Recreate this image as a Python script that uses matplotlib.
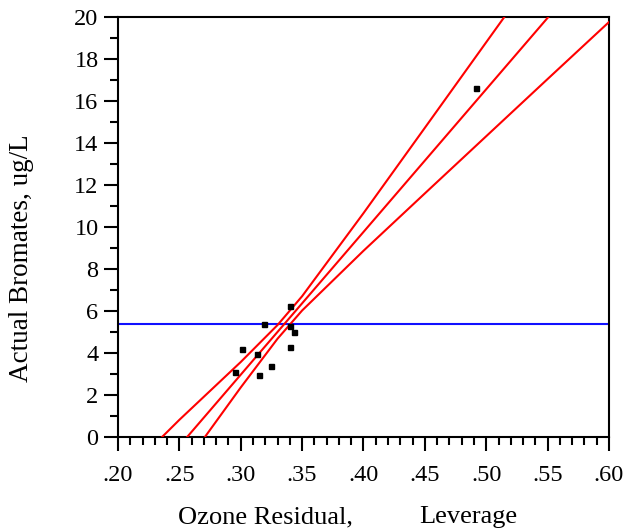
import matplotlib
matplotlib.use("Agg")
import matplotlib.pyplot as plt
from matplotlib.ticker import MultipleLocator, FuncFormatter

plt.rcParams['font.family'] = ['Liberation Serif', 'DejaVu Serif']

# observed points (ozone residual leverage, actual bromates)
x_pts = [0.295, 0.301, 0.313, 0.315, 0.319, 0.325, 0.340, 0.340, 0.340, 0.343, 0.492]
y_pts = [3.1, 4.2, 3.95, 2.95, 5.4, 3.4, 6.25, 4.3, 5.3, 5.0, 16.6]

# fitted line
fit_x = [0.256, 0.5506]
fit_y = [0.0, 20.0]

# confidence curves
upper_x = [0.2355, 0.25, 0.30, 0.33, 0.35, 0.40, 0.45, 0.50, 0.515]
upper_y = [0.0, 0.84, 3.59, 5.35, 6.72, 10.67, 14.73, 18.80, 20.02]
lower_x = [0.2705, 0.30, 0.33, 0.35, 0.40, 0.45, 0.50, 0.55, 0.60]
lower_y = [0.0, 2.38, 4.70, 6.04, 8.88, 11.61, 14.33, 17.05, 19.76]

mean_y = 5.4

fig = plt.figure(figsize=(6.29, 5.29), dpi=100)
ax = fig.add_axes([0.1876, 0.173, 0.7806, 0.7949])

ax.axhline(mean_y, color='#1010ff', lw=1.5, zorder=2)
ax.plot(fit_x, fit_y, color='red', lw=1.5, zorder=3)
ax.plot(upper_x, upper_y, color='red', lw=1.5, zorder=3)
ax.plot(lower_x, lower_y, color='red', lw=1.5, zorder=3)
ax.plot(x_pts, y_pts, 's', color='black', ms=3.6, zorder=4)

ax.set_xlim(0.2, 0.6)
ax.set_ylim(0, 20)

ax.xaxis.set_major_locator(MultipleLocator(0.05))
ax.xaxis.set_minor_locator(MultipleLocator(0.01))
ax.yaxis.set_major_locator(MultipleLocator(2))
ax.yaxis.set_minor_locator(MultipleLocator(1))
ax.xaxis.set_major_formatter(FuncFormatter(lambda v, p: ('%.2f' % v)[1:]))

ax.tick_params(which='major', direction='out', length=10, width=1.5, labelsize=17.5, color='black')
ax.tick_params(which='minor', direction='out', length=6, width=1.5)
ax.tick_params(axis='x', pad=10)
ax.tick_params(axis='y', pad=4)

for s in ax.spines.values():
    s.set_linewidth(1.5)

# x label drawn as two pieces to keep the wide gap of the original
fig.text(265 / 629, 0.0113, 'Ozone Residual,', fontsize=19, ha='center', va='baseline')
fig.text(468 / 629, 0.0113, 'Leverage', fontsize=19, ha='center', va='baseline')

ax.set_ylabel('Actual Bromates, ug/L', fontsize=19.5)
ax.yaxis.set_label_coords(-0.172, 0.427)

fig.savefig('out.png', dpi=100)
